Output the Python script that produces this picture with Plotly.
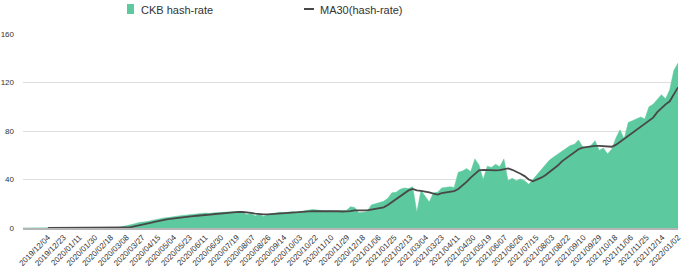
import pandas as pd
import plotly.graph_objects as go

# ---- data (one value every 5 days from 2019-11-04) ----
start_date = "2019-11-04"
step = "5D"

hash_rate = [
    0.1, 0.1, 0.1, 0.1, 0.2, 0.2, 0.2, 0.2, 0.2, 0.2,
    0.2, 0.2, 0.2, 0.2, 0.2, 0.2, 0.2, 0.2, 0.2, 0.3,
    0.3, 0.3, 0.3, 0.5, 1.2, 1.8, 2.5, 3.5, 4.5, 4.8,
    5.3, 6.2, 7.0, 7.6, 8.3, 8.6, 9.3, 9.8, 10.2, 10.5,
    11.0, 11.3, 11.6, 12.0, 12.3, 12.0, 12.5, 12.8, 13.0, 13.2,
    13.3, 13.5, 13.3, 12.8, 11.0, 12.2, 10.0, 11.5, 9.5, 11.0,
    11.8, 12.5, 13.0, 12.6, 13.3, 13.5, 13.0, 13.8, 14.2, 14.8,
    15.2, 14.8, 14.2, 14.0, 14.3, 13.8, 14.0, 14.0, 14.5, 17.5,
    17.0, 12.5, 12.8, 13.5, 19.0, 20.0, 20.5, 22.0, 24.5, 29.0,
    29.5, 32.0, 33.0, 32.5, 34.0, 13.0, 31.0, 26.0, 21.5, 29.0,
    29.5, 33.0, 33.5, 34.0, 33.5, 46.0, 47.0, 49.0, 46.5, 57.0,
    52.0, 40.0, 51.0, 50.0, 52.5, 50.5, 57.0, 39.0, 41.0, 39.0,
    40.5, 39.0, 36.0, 40.0, 44.0, 48.0, 52.5, 56.0, 58.5, 61.0,
    63.5, 66.0, 68.0, 69.0, 72.5, 67.0, 66.5, 68.0, 72.0, 64.0,
    66.0, 61.0, 65.0, 74.0, 81.0, 73.5, 87.0, 88.5, 90.0, 91.5,
    90.0, 100.0, 102.0, 106.0, 110.0, 106.5, 114.0, 130.0, 136.0,
]

ma30 = [
    None, None, None, None, None, None, 0.1, 0.1, 0.1, 0.1,
    0.1, 0.1, 0.1, 0.1, 0.1, 0.1, 0.1, 0.1, 0.1, 0.1,
    0.1, 0.1, 0.1, 0.15, 0.2, 0.4, 0.8, 1.4, 2.1, 2.8,
    3.6, 4.4, 5.3, 6.1, 6.7, 7.3, 7.8, 8.3, 8.8, 9.2,
    9.5, 9.8, 10.1, 10.4, 10.7, 11.1, 11.5, 11.9, 12.3, 12.7,
    13.0, 13.2, 13.3, 13.2, 13.0, 12.4, 11.8, 11.4, 11.2, 11.3,
    11.6, 11.9, 12.2, 12.5, 12.7, 12.9, 13.1, 13.3, 13.5, 13.7,
    13.8, 13.9, 14.0, 14.0, 14.0, 13.9, 13.8, 13.6, 13.6, 13.9,
    14.5, 14.8, 14.6, 14.5, 15.0, 15.6, 16.2, 17.0, 19.0, 21.5,
    24.0, 26.5, 29.0, 31.0, 32.2, 31.0, 30.6, 30.2, 29.3, 28.3,
    27.6, 28.8, 29.3, 29.5, 30.5, 32.2, 35.0, 38.0, 41.5, 44.5,
    47.5, 48.0, 47.8, 47.5, 47.5, 47.8, 48.3, 49.2, 48.0, 46.5,
    44.8, 42.8, 40.0, 38.5, 39.8, 41.5, 43.5, 46.0, 48.5, 51.5,
    55.0, 57.5, 60.5, 62.5, 65.0, 66.3, 67.0, 67.6, 67.8, 67.8,
    67.5, 67.0, 67.0, 68.5, 71.0, 73.0, 75.5, 78.0, 81.0, 83.5,
    85.5, 88.0, 91.0, 95.5, 99.0, 102.0, 104.5, 110.0, 116.0,
]

tick_labels = [
    "2019/12/04", "2019/12/23", "2020/01/11", "2020/01/30", "2020/02/18",
    "2020/03/08", "2020/03/27", "2020/04/15", "2020/05/04", "2020/05/23",
    "2020/06/11", "2020/06/30", "2020/07/19", "2020/08/07", "2020/08/26",
    "2020/09/14", "2020/10/03", "2020/10/22", "2020/11/10", "2020/11/29",
    "2020/12/18", "2021/01/06", "2021/01/25", "2021/02/13", "2021/03/04",
    "2021/03/23", "2021/04/11", "2021/04/30", "2021/05/19", "2021/06/07",
    "2021/06/26", "2021/07/15", "2021/08/03", "2021/08/22", "2021/09/10",
    "2021/09/29", "2021/10/18", "2021/11/06", "2021/11/25", "2021/12/14",
    "2022/01/02",
]
y_ticks = [0, 40, 80, 120, 160]
series_names = ["CKB hash-rate", "MA30(hash-rate)"]

# ---- styling ----
GREEN = "rgb(92,201,158)"
DARK = "#484848"
FONT = "Liberation Sans, Arial, sans-serif"

dates = pd.date_range(start=start_date, periods=len(hash_rate), freq=step)
tick_dates = [pd.Timestamp(t.replace("/", "-")) for t in tick_labels]

fig = go.Figure()
fig.add_trace(go.Scatter(
    x=dates, y=hash_rate, mode="lines", name=series_names[0],
    line=dict(color=GREEN, width=0.5), fill="tozeroy", fillcolor=GREEN,
    showlegend=False,
))
fig.add_trace(go.Scatter(
    x=dates, y=ma30, mode="lines", name=series_names[1],
    line=dict(color=DARK, width=1.8), showlegend=False,
))

# manual legend (pixel positions converted to paper coords)
L, R, T, B = 23, 12, 34, 40
W, H = 690 - L - R, 268 - T - B
def px(x):
    return (x - L) / W
def py(y):
    return (268 - B - y) / H

fig.add_shape(type="rect", xref="paper", yref="paper",
              x0=px(127), x1=px(134), y0=py(14), y1=py(4),
              fillcolor=GREEN, line=dict(width=0))
fig.add_shape(type="line", xref="paper", yref="paper",
              x0=px(304), x1=px(314), y0=py(9), y1=py(9),
              line=dict(color=DARK, width=2))
fig.add_annotation(xref="paper", yref="paper", x=px(140), y=py(9.5),
                   text=series_names[0], showarrow=False, xanchor="left",
                   yanchor="middle", borderpad=0,
                   font=dict(size=11, color="#333", family=FONT))
fig.add_annotation(xref="paper", yref="paper", x=px(319), y=py(9.5),
                   text=series_names[1], showarrow=False, xanchor="left",
                   yanchor="middle", borderpad=0,
                   font=dict(size=11, color="#333", family=FONT))

fig.update_layout(
    width=690, height=268,
    margin=dict(l=L, r=R, t=T, b=B, autoexpand=False),
    paper_bgcolor="white", plot_bgcolor="white",
    font=dict(family=FONT, color="#333"),
    showlegend=False,
)
fig.update_xaxes(
    type="date", automargin=False,
    range=[dates[0], dates[-1]],
    tickmode="array", tickvals=tick_dates, ticktext=tick_labels,
    tickangle=-45, tickfont=dict(size=8, color="#333", family=FONT),
    showgrid=False, zeroline=False,
    showline=True, linecolor="#b5b5b5", linewidth=1.5,
    ticks="",
)
fig.update_yaxes(
    automargin=False,
    range=[0, 160], tickmode="array", tickvals=y_ticks,
    tickfont=dict(size=8, color="#333", family=FONT),
    showgrid=True, gridcolor="#dedede", gridwidth=1,
    zeroline=False, showline=False, ticks="",
    ticklabelstandoff=8,
)

fig.write_html("out.html")
